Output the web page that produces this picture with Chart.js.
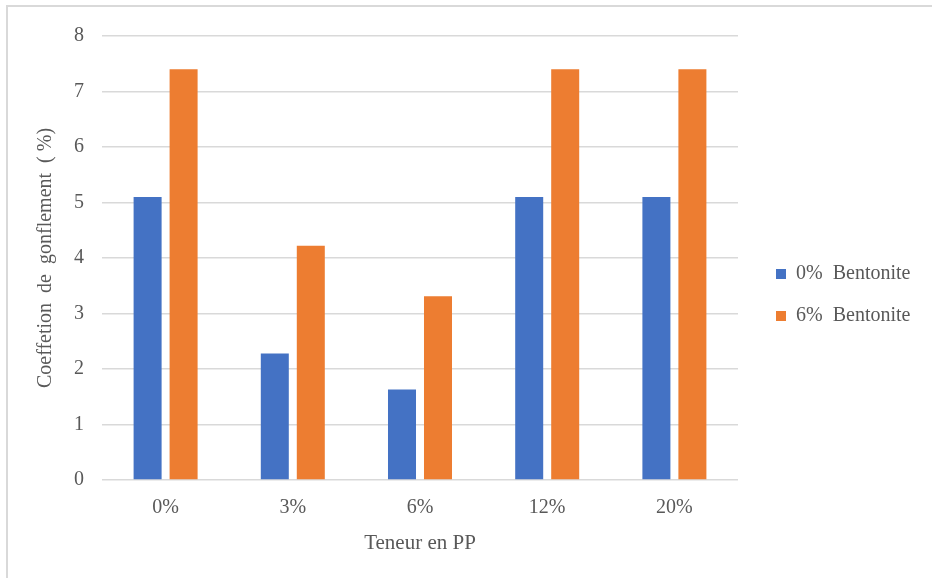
<!DOCTYPE html>
<html>
<head>
<meta charset="utf-8">
<script src="https://cdn.jsdelivr.net/npm/chart.js@4/dist/chart.umd.min.js"></script>
<style>
  html, body { margin: 0; padding: 0; background: #fff; overflow: hidden; }
  #frame { position: absolute; left: 6px; top: 5px; width: 940px; height: 600px;
           border-top: 2px solid #d9d9d9; border-left: 2px solid #d9d9d9; pointer-events: none; }
  #wrap { position: absolute; left: 0; top: 0; width: 932px; height: 578px; }
</style>
</head>
<body>
<div id="wrap"><canvas id="c" width="932" height="578"></canvas></div>
<div id="frame"></div>
<script>
const categories = ['0%', '3%', '6%', '12%', '20%'];
const seriesNames = ['0%  Bentonite', '6%  Bentonite'];
const bentonite0 = [5.1, 2.28, 1.63, 5.1, 5.1];
const bentonite6 = [7.4, 4.22, 3.31, 7.4, 7.4];
const yTicks = [0, 1, 2, 3, 4, 5, 6, 7, 8];

const FONT = "'Liberation Serif', 'Times New Roman', serif";
const TXT = '#595959';

// Legend placement tweaks (layout only)
const LEGEND_WIDTH = 194;
const LEGEND_SHIFT_X = 16;
const LEGEND_SHIFT_Y = -12;

const legendPlacer = {
  id: 'legendPlacer',
  beforeLayout(chart) {
    const lg = chart.legend;
    if (lg && !lg.__patched) {
      const fit = lg.fit;
      lg.fit = function () { fit.call(this); this.width = LEGEND_WIDTH; };
      lg.__patched = true;
    }
  },
  afterLayout(chart) {
    const lg = chart.legend;
    if (lg) {
      lg.left += LEGEND_SHIFT_X;
      lg.top += LEGEND_SHIFT_Y;
      lg.bottom += LEGEND_SHIFT_Y;
    }
  }
};

new Chart(document.getElementById('c'), {
  type: 'bar',
  data: {
    labels: categories,
    datasets: [
      { label: seriesNames[0], data: bentonite0, backgroundColor: '#4472C4',
        categoryPercentage: 0.566, barPercentage: 0.778 },
      { label: seriesNames[1], data: bentonite6, backgroundColor: '#ED7D31',
        categoryPercentage: 0.566, barPercentage: 0.778 }
    ]
  },
  plugins: [legendPlacer],
  options: {
    responsive: false,
    animation: false,
    layout: { padding: { top: 36, right: 0, bottom: 0, left: 0 } },
    plugins: {
      tooltip: { enabled: false },
      legend: {
        position: 'right',
        labels: {
          font: { family: FONT, size: 20 },
          color: TXT,
          boxWidth: 10,
          boxHeight: 10,
          padding: 22
        }
      }
    },
    scales: {
      x: {
        grid: { display: false },
        border: { display: false },
        ticks: { font: { family: FONT, size: 20 }, color: TXT, padding: 8 },
        title: { display: true, text: 'Teneur en PP', font: { family: FONT, size: 21 },
                 color: TXT, padding: { top: 4, bottom: 22 } },
        afterFit: (s) => { s.height = 98; }
      },
      y: {
        min: 0, max: 8,
        afterBuildTicks: (s) => { s.ticks = yTicks.map(v => ({ value: v })); },
        grid: { color: '#d9d9d9', lineWidth: 1.5, drawTicks: false },
        border: { display: false },
        ticks: { font: { family: FONT, size: 20 }, color: TXT, padding: 18 },
        title: { display: true, text: 'Coeffetion  de  gonflement  ( %)', font: { family: FONT, size: 20 },
                 color: TXT, padding: { top: 34, bottom: 4 } },
        afterFit: (s) => { s.width = 102; }
      }
    }
  }
});
</script>
</body>
</html>
